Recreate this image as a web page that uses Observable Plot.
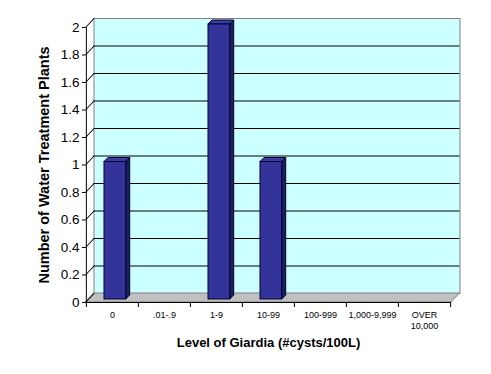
<!DOCTYPE html>
<html>
<head>
<meta charset="utf-8">
<script src="https://cdn.jsdelivr.net/npm/d3@7"></script>
<script src="https://cdn.jsdelivr.net/npm/@observablehq/plot@0.6"></script>
<style>
  html, body { margin: 0; padding: 0; background: white; }
</style>
</head>
<body>
<div id="chart"></div>
<script>
const categories = ["0", ".01-.9", "1-9", "10-99", "100-999", "1,000-9,999", "OVER\n10,000"];
const counts = [1, 0, 2, 1, 0, 0, 0];
const yTicks = [0, 0.2, 0.4, 0.6, 0.8, 1, 1.2, 1.4, 1.6, 1.8, 2];
const xTitle = "Level of Giardia (#cysts/100L)";
const yTitle = "Number of Water Treatment Plants";

const data = categories.map((c, i) => ({category: c, count: counts[i]}));

const W = 491, H = 374, ML = 85, MR = 40, MT = 27, MB = 72;
const DX = 8.5, DY = -9;          // wall depth offset
const BD = 4;                     // bar depth
const BOFF = 3;                   // bar set-back from front plane
const IL = 18, IR = 12.3;         // bar insets within band
const bw = (W - ML - MR) / categories.length;

const lineShape = {draw(context, l) { context.moveTo(0, 0); context.lineTo(0, -l); }};

function floorMark(index, scales, values, dim) {
  const y0 = scales.y(0), x0 = dim.marginLeft, x1 = dim.width - dim.marginRight;
  const g = d3.create("svg:g");
  g.append("path")
    .attr("d", `M${x0},${y0}L${x1},${y0}L${x1 + DX},${y0 + DY}L${x0 + DX},${y0 + DY}Z`)
    .attr("fill", "#c0c0c0").attr("stroke", "#808080");
  return g.node();
}

function barDepthMark(index, scales) {
  const g = d3.create("svg:g").attr("stroke", "#000033").attr("stroke-linejoin", "round");
  const band = scales.x.bandwidth ? scales.x.bandwidth() : bw;
  for (const d of data) {
    if (!(d.count > 0)) continue;
    const xl = scales.x(d.category) + IL, xr = scales.x(d.category) + band - IR;
    const yt = scales.y(d.count) - BOFF, yb = scales.y(0) - BOFF;
    g.append("path").attr("fill", "#1f1f5e")
      .attr("d", `M${xr},${yt}L${xr + BD},${yt - BD}L${xr + BD},${yb - BD}L${xr},${yb}Z`);
    g.append("path").attr("fill", "#3a3aa3")
      .attr("d", `M${xl},${yt}L${xl + BD},${yt - BD}L${xr + BD},${yt - BD}L${xr},${yt}Z`);
  }
  return g.node();
}

const chart = Plot.plot({
  width: W, height: H,
  marginLeft: ML, marginRight: MR, marginTop: MT, marginBottom: MB,
  style: {fontFamily: "'Liberation Sans', Arial, sans-serif", background: "white", color: "black", overflow: "visible"},
  x: {domain: categories, padding: 0, axis: null},
  y: {domain: [0, 2], axis: null},
  marks: [
    Plot.frame({fill: "#ccffff", stroke: "#808080", dx: DX, dy: DY}),
    floorMark,
    Plot.ruleY(yTicks.filter(t => t > 0 && t < 2), {dx: DX, dy: DY, stroke: "black"}),
    Plot.vector(yTicks, {y: d => d, frameAnchor: "left", anchor: "start",
      length: Math.hypot(DX, DY), rotate: Math.atan2(DX, -DY) * 180 / Math.PI,
      shape: lineShape, stroke: "black", strokeWidth: 1}),
    barDepthMark,
    Plot.barY(data, {x: "category", y: "count", filter: d => d.count > 0, dy: -BOFF,
      insetLeft: IL, insetRight: IR, fill: "#333399", stroke: "#000033"}),
    Plot.ruleY([0], {stroke: "black"}),
    Plot.ruleX([categories[0]], {y1: 0, y2: 2, dx: -bw / 2, stroke: "black"}),
    Plot.axisY({ticks: yTicks, tickSize: 3, tickPadding: 3, fontSize: 13.5, label: null,
      tickFormat: d => String(d)}),
    Plot.axisX({tickSize: 0, tickPadding: 7, fontSize: 9, lineHeight: 1.25, label: null}),
    Plot.axisX({tickSize: 5, tickFormat: () => "", dx: -bw / 2, label: null}),
    Plot.axisX([categories[categories.length - 1]], {tickSize: 5, tickFormat: () => "", dx: bw / 2, label: null}),
    Plot.text([yTitle], {frameAnchor: "left", dx: -41, rotate: -90, textAnchor: "middle",
      lineAnchor: "middle", fontWeight: "bold", fontSize: 14.5}),
    Plot.text([xTitle], {frameAnchor: "bottom", dy: 40, textAnchor: "middle",
      lineAnchor: "middle", fontWeight: "bold", fontSize: 13})
  ]
});
document.getElementById("chart").append(chart);
</script>
</body>
</html>
